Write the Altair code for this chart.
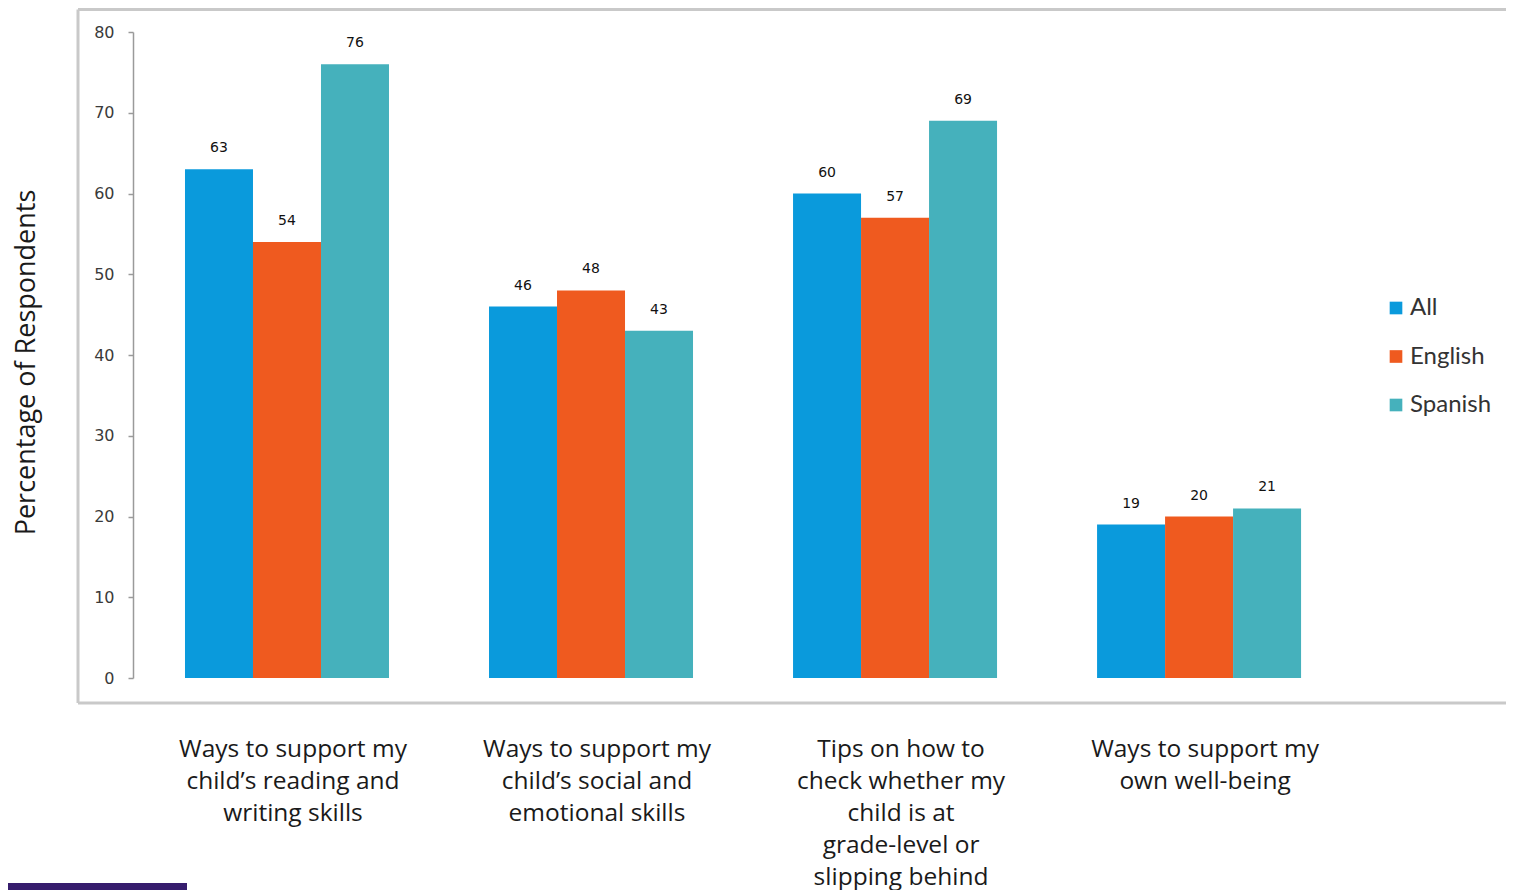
import altair as alt
import pandas as pd

categories = [
    "Ways to support my|child’s reading and|writing skills",
    "Ways to support my|child’s social and|emotional skills",
    "Tips on how to|check whether my|child is at|grade-level or|slipping behind",
    "Ways to support my|own well-being",
]
groups = ["All", "English", "Spanish"]
all_vals = [63, 46, 60, 19]
english_vals = [54, 48, 57, 20]
spanish_vals = [76, 43, 69, 21]
colors = ["#0A9ADC", "#EF5A1F", "#45B1BC"]
y_ticks = [0, 10, 20, 30, 40, 50, 60, 70, 80]

rows = []
for g, vals in zip(groups, [all_vals, english_vals, spanish_vals]):
    for c, v in zip(categories, vals):
        rows.append({"category": c, "group": g, "value": v})
df = pd.DataFrame(rows)

W, H = 1428, 646
TOTAL_H = 882
PAD_TOP = 24

x_enc = alt.X(
    "category:N",
    sort=categories,
    scale=alt.Scale(paddingInner=0.329, paddingOuter=0.513, align=0.343),
    axis=alt.Axis(
        title=None,
        labelExpr="split(datum.label, '|')",
        labelAngle=0,
        domain=False,
        ticks=False,
        labelPadding=59,
        labelFontSize=24.5,
        labelFont="Open Sans",
        labelColor="#1a1a1a",
        labelLineHeight=32,
        labelLimit=0,
        labelBaseline="top",
        labelOffset=6,
    ),
)
xoff = alt.XOffset("group:N", sort=groups, scale=alt.Scale(paddingInner=0, paddingOuter=0))

y_enc = alt.Y(
    "value:Q",
    scale=alt.Scale(domain=[0, 80], nice=False),
    axis=alt.Axis(
        values=y_ticks,
        offset=-55,
        tickSize=5,
        tickColor="#9a9a9a",
        domainColor="#9a9a9a",
        domainWidth=1.5,
        tickWidth=1.5,
        labelPadding=14,
        labelFontSize=16,
        labelFont="DejaVu Sans",
        labelColor="#3a3a3a",
        grid=False,
        title="Percentage of Respondents",
        titleFontSize=27,
        titleFont="Open Sans",
        titleFontWeight="normal",
        titleColor="#1a1a1a",
        titleAngle=270,
        titleX=-107,
        titleY=330,
        titleAlign="center",
        titleBaseline="middle",
    ),
)

base = alt.Chart(df).encode(x=x_enc, xOffset=xoff)

bars = base.mark_bar().encode(
    y=y_enc,
    color=alt.Color(
        "group:N",
        sort=groups,
        scale=alt.Scale(domain=groups, range=colors),
        legend=alt.Legend(
            title=None,
            orient="none",
            legendX=1306,
            legendY=264,
            symbolType="square",
            symbolSize=160,
            symbolStrokeWidth=0,
            labelFontSize=24,
            labelFont="Lato",
            labelColor="#333333",
            rowPadding=24.5,
            labelOffset=2,
        ),
    ),
)

labels = base.mark_text(dy=-21, fontSize=14, font="DejaVu Sans", color="#111111").encode(
    y=alt.Y("value:Q"), text=alt.Text("value:Q")
)

deco = pd.DataFrame({"d": [0]})
box_color = "#c9c9c9"
left_rule = alt.Chart(deco).mark_rule(color=box_color, strokeWidth=3).encode(
    x=alt.value(0), y=alt.value(-22.5), y2=alt.value(671)
)
top_rule = alt.Chart(deco).mark_rule(color=box_color, strokeWidth=3).encode(
    x=alt.value(0), x2=alt.value(W), y=alt.value(-22.5)
)
bottom_rule = alt.Chart(deco).mark_rule(color=box_color, strokeWidth=3).encode(
    x=alt.value(0), x2=alt.value(W), y=alt.value(671)
)
purple = alt.Chart(deco).mark_rect(color="#361D6D").encode(
    x=alt.value(-70), x2=alt.value(109), y=alt.value(851), y2=alt.value(858)
)

chart = (
    alt.layer(left_rule, top_rule, bottom_rule, bars, labels, purple)
    .properties(
        width=W,
        height=H,
        autosize=alt.AutoSizeParams(type="none"),
        padding={"left": 70, "top": PAD_TOP, "right": 0, "bottom": TOTAL_H - PAD_TOP - H},
        background="white",
    )
    .configure_view(stroke=None)
)

chart.save("out.html", embed_options={"renderer": "svg", "actions": False})
